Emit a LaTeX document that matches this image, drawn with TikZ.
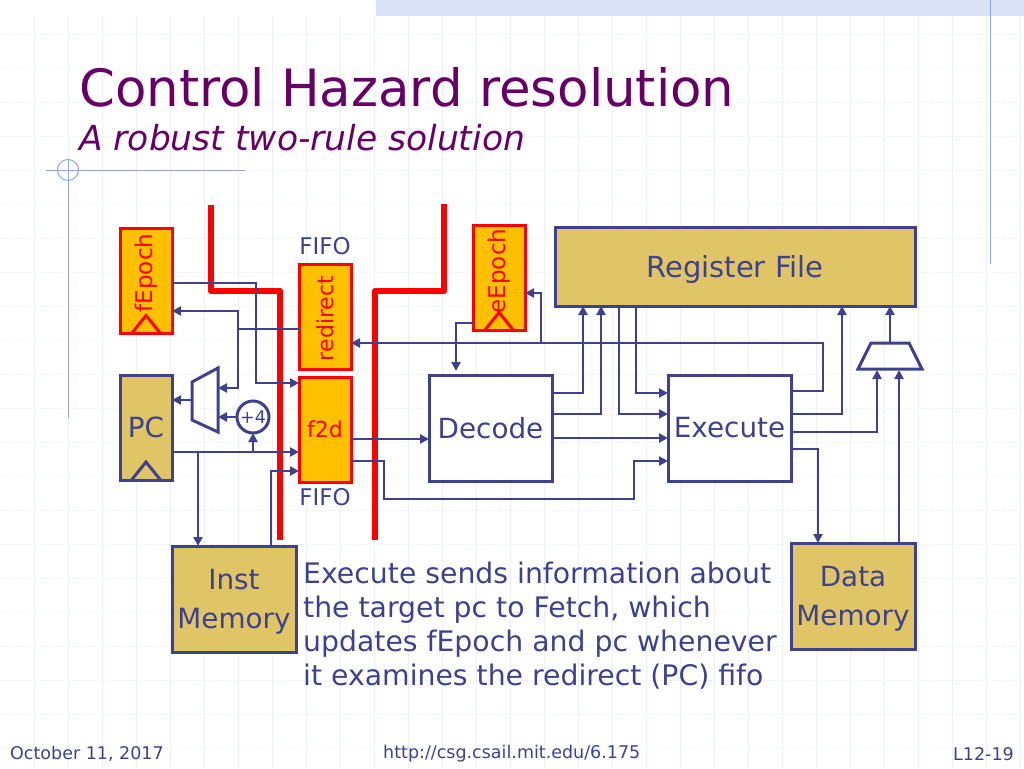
\documentclass[tikz,border=0pt]{standalone}
\usepackage{fontspec}
\setmainfont{DejaVu Sans}
\usetikzlibrary{positioning,arrows.meta}
\definecolor{wireblue}{HTML}{3F418F}
\definecolor{titlepurple}{HTML}{660066}
\definecolor{tanfill}{HTML}{E0C566}
\definecolor{ambfill}{HTML}{FFC000}
\definecolor{gridblue}{HTML}{ECF0FA}
\definecolor{slideblue}{HTML}{8FA6E6}
\definecolor{bandblue}{HTML}{D9E2F6}
\newcommand{\fs}[1]{\fontsize{#1}{#1}\selectfont}
\newcommand{\clockmark}[2]{\draw[#2,line width=3pt,line join=miter] ([xshift=-14.5pt]#1.south) -- ([yshift=18pt]#1.south) -- ([xshift=14.5pt]#1.south);}
\newcommand{\dropline}[1]{\raisebox{-2.5pt}[\height][\depth]{#1}}
\tikzset{
  x=1pt,
  y=-1pt,
  >={Triangle[length=9pt,width=9pt]},
  wire/.style={draw=wireblue,line width=2.4pt},
  arrowwire/.style={wire,->},
  cutline/.style={draw=red,line width=6.5pt,line join=round},
  gridv/.style={draw=gridblue,line width=0.8pt},
  gridh/.style={draw=gridblue,line width=0.8pt,densely dotted},
  decoline/.style={draw=slideblue,line width=1pt},
  blockbox/.style args={#1,#2}{
    draw=wireblue,
    line width=3pt,
    text=wireblue,
    inner sep=0pt,
    outer sep=0pt,
    minimum width=#1 pt,
    minimum height=#2 pt,
    font=\fs{27.8}
  },
  tanbox/.style args={#1,#2}{blockbox={#1,#2},fill=tanfill},
  regbox/.style={blockbox={52,105},draw=red,fill=ambfill,text=red},
  muxline/.style={draw=wireblue,line width=3pt,line join=miter},
  fifolabel/.style={text=wireblue,font=\fs{23},inner sep=0pt}
}
\begin{document}
\begin{tikzpicture}
  \useasboundingbox (0,0) rectangle (1024,768);

  % slide background
  \foreach \i in {1,...,30} \draw[gridv] (34*\i,16) -- (34*\i,768);
  \foreach \i in {1,...,22} \draw[gridh] (0,34*\i) -- (1024,34*\i);
  \fill[bandblue] (376,0) rectangle (1024,16);
  \draw[decoline] (990,0) -- (990,264);
  \draw[decoline] (68,160) -- (68,418);
  \draw[decoline] (46,170) -- (245,170);
  \draw[decoline] (68,170) circle (10.5);

  \node[anchor=west,inner sep=0pt,text=titlepurple,font=\fs{51.4}] (title) at (79,87) {Control Hazard resolution};
  \node[anchor=west,inner sep=0pt,text=titlepurple,font=\fs{34.5}\itshape] (subtitle) at (79,138) {A robust two-rule solution};

  % epoch registers and fifos
  \node[regbox] (fepoch) at (146,281) {};
  \node[rotate=90,text=red,font=\fs{23},inner sep=0pt] (fepochtext) at (146.5,273) {fEpoch};
  \clockmark{fepoch}{red}
  \node[regbox] (eepoch) at (499,278) {};
  \node[rotate=90,text=red,font=\fs{23},inner sep=0pt] (eepochtext) at (499.5,271) {eEpoch};
  \clockmark{eepoch}{red}
  \node[regbox] (redirect) at (325,316.5) {\rotatebox{90}{\fs{22}\hspace{-4pt}redirect}};
  \node[regbox,below=8pt of redirect] (f2d) {\fs{22}f2d};
  \node[fifolabel,above=9pt of redirect] (fifotop) {FIFO};
  \node[fifolabel,below=6pt of f2d] (fifobot) {FIFO};

  % blocks
  \node[tanbox={52,105}] (pc) at (146,427.5) {PC};
  \clockmark{pc}{wireblue}
  \node[tanbox={124,106},align=center,font=\fontsize{27.8}{39}\selectfont] (imem) at (234,599) {\dropline{Inst}\\\dropline{Memory}};
  \node[tanbox={124,106},align=center,font=\fontsize{27.8}{39}\selectfont] (dmem) at (853,596) {\dropline{Data}\\\dropline{Memory}};
  \node[tanbox={360,79},font=\fs{29}] (rf) at (735,266.5) {\dropline{Register File}};
  \node[blockbox={123,106},fill=white] (decode) at (490.5,428) {Decode};
  \node[blockbox={123,106},fill=white] (execute) at (729.5,428) {Execute};
  \draw[muxline] (192,382) -- (218,368) -- (218,432) -- (192,420) -- cycle;
  \coordinate (pcmuxl) at (192,400);
  \coordinate (pcmuxr) at (218,400);
  \draw[muxline] (871,343) -- (909,343) -- (922,369) -- (858,369) -- cycle;
  \coordinate (wbmuxt) at (890,343);
  \node[circle,draw=wireblue,line width=3pt,fill=white,text=wireblue,inner sep=0pt,outer sep=0pt,minimum size=32pt,font=\fs{17.5}] (plusfour) at (253,417) {+4};

  % red cuts
  \draw[cutline] (211,205) |- (280,291) -- (280,540);
  \draw[cutline] (375,540) |- (444,291) -- (444,204);

  % fetch wires
  \coordinate (rjoin) at (238,329);
  \coordinate (pcjoin) at (198,452);
  \draw[arrowwire] (fepoch.east |- 0,283) -| (256,383) -- (f2d.west |- 0,383);
  \draw[wire] (redirect.west |- rjoin) -- (rjoin);
  \draw[arrowwire] (rjoin) |- (fepoch.east |- 0,311);
  \draw[arrowwire] (rjoin) |- (pcmuxr |- 0,388);
  \draw[arrowwire] (pcmuxl) -- (pc.east |- pcmuxl);
  \draw[arrowwire] (plusfour.west) -- (pcmuxr |- plusfour.west);
  \draw[arrowwire] (pc.east |- pcjoin) -- (f2d.west |- pcjoin);
  \draw[arrowwire] (plusfour.south |- pcjoin) -- (plusfour.south);
  \draw[arrowwire] (pcjoin) -- (pcjoin |- imem.north);
  \draw[arrowwire] (imem.north -| 271,0) |- (f2d.west |- 0,471);

  % decode wires
  \coordinate (dectip) at (456,371);
  \draw[arrowwire] (f2d.east |- 0,439) -- (decode.west |- 0,439);
  \draw[arrowwire] (f2d.east |- 0,461) -| (384,499) -| (634,461) -- (execute.west |- 0,461);
  \draw[arrowwire] (eepoch.west |- 0,323) -| (dectip);
  \draw[arrowwire] (decode.east |- 0,393) -| (rf.south -| 583,0);
  \draw[arrowwire] (decode.east |- 0,414) -| (rf.south -| 601,0);
  \draw[arrowwire] (decode.east |- 0,438) -- (execute.west |- 0,438);
  \draw[arrowwire] (rf.south -| 619,0) |- (execute.west |- 0,414);
  \draw[arrowwire] (rf.south -| 636,0) |- (execute.west |- 0,393);

  % execute wires
  \coordinate (brjoin) at (541,343);
  \draw[arrowwire] (execute.east |- 0,391) -| (823,343) -- (redirect.east |- brjoin);
  \draw[arrowwire] (brjoin) |- (eepoch.east |- 0,293);
  \draw[arrowwire] (execute.east |- 0,414) -| (rf.south -| 842,0);
  \draw[arrowwire] (execute.east |- 0,432) -| (877,370);
  \draw[arrowwire] (execute.east |- 0,449) -| (dmem.north -| 818,0);
  \draw[arrowwire] (dmem.north -| 899,0) -- (899,370);
  \draw[arrowwire] (wbmuxt) -- (wbmuxt |- rf.south);

  \node[anchor=north west,inner sep=0pt,align=left,text=wireblue,font=\fontsize{28.3}{34}\selectfont] (note) at (303,562) {Execute sends information about\\the target pc to Fetch, which\\updates fEpoch and pc whenever\\it examines the redirect (PC) fifo};

  % footer
  \node[anchor=west,inner sep=0pt,text=wireblue,font=\fs{17.5}] (fdate) at (10,754) {October 11, 2017};
  \node[anchor=west,inner sep=0pt,text=wireblue,font=\fs{17.5}] (furl) at (383,754) {http://csg.csail.mit.edu/6.175};
  \node[anchor=east,inner sep=0pt,text=wireblue,font=\fs{17.5}] (fpage) at (1014,754) {L12-19};
\end{tikzpicture}
\end{document}
